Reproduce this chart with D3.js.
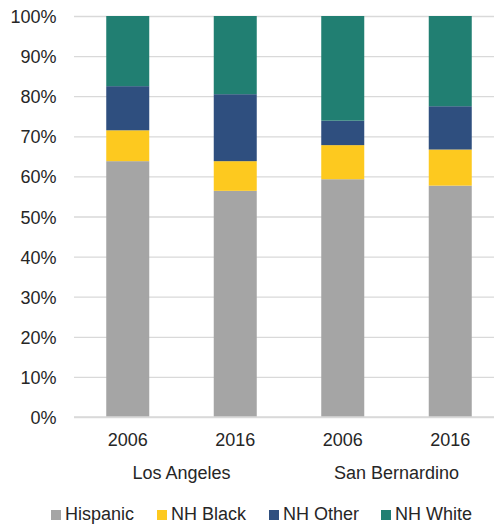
<!DOCTYPE html>
<html>
<head>
  <meta charset="utf-8">
  <script src="https://d3js.org/d3.v7.min.js"></script>
  <style>
    body { margin: 0; background: #fff; }
    svg text { font-family: "Liberation Sans", Arial, sans-serif; fill: #262626; font-size: 18px; }
    .gridlines line { stroke: #d9d9d9; stroke-width: 1.3; }
    .gridlines .domain { stroke: none; }
  </style>
</head>
<body>
  <svg id="chart" width="494" height="527"></svg>
  <script>
    // data
    const years = ["2006", "2016", "2006", "2016"];
    const counties = ["Los Angeles", "San Bernardino"];
    const groups = ["Hispanic", "NH Black", "NH Other", "NH White"];
    const hispanic = [63.8, 56.4, 59.3, 57.7];
    const nhBlack = [7.7, 7.4, 8.5, 9.0];
    const nhOther = [11.0, 16.7, 6.1, 10.8];
    const nhWhite = [17.5, 19.5, 26.1, 22.5];
    const yTicks = [0, 10, 20, 30, 40, 50, 60, 70, 80, 90, 100];
    const colors = ["#a5a5a5", "#fdc91f", "#2f4f7f", "#217f72"];

    const svg = d3.select("svg#chart");
    const margin = { top: 16, left: 74 };
    const plotRight = 504;  // plot runs a little past the right edge
    const plotBottom = 417;

    const rows = years.map((y, i) => ({
      key: i,
      Hispanic: hispanic[i],
      "NH Black": nhBlack[i],
      "NH Other": nhOther[i],
      "NH White": nhWhite[i]
    }));

    const xScale = d3.scaleBand().domain(d3.range(years.length))
      .range([margin.left, plotRight]).paddingInner(0.6).paddingOuter(0.3);
    const yScale = d3.scaleLinear().domain([0, 100]).range([plotBottom, margin.top]);
    const colorScale = d3.scaleOrdinal().domain(groups).range(colors);

    // gridlines
    const grid = d3.axisLeft(yScale).tickValues(yTicks).tickFormat("")
      .tickSize(-(plotRight - margin.left));
    svg.append("g").attr("class", "gridlines")
      .attr("transform", `translate(${margin.left},0)`)
      .call(grid);

    // y labels
    svg.append("g").selectAll("text").data(yTicks).join("text")
      .attr("x", 56.5).attr("y", d => yScale(d) + 7)
      .attr("text-anchor", "end")
      .text(d => d + "%");

    // stacked bars
    const stack = d3.stack().keys(groups)(rows);
    svg.append("g").selectAll("g").data(stack).join("g")
      .attr("fill", d => colorScale(d.key))
      .selectAll("rect").data(d => d).join("rect")
      .attr("x", d => xScale(d.data.key))
      .attr("width", xScale.bandwidth())
      .attr("y", d => yScale(d[1]))
      .attr("height", d => yScale(d[0]) - yScale(d[1]));

    // baseline
    svg.append("line")
      .attr("x1", margin.left).attr("x2", plotRight)
      .attr("y1", plotBottom).attr("y2", plotBottom)
      .attr("stroke", "#d9d9d9").attr("stroke-width", 1.3);

    // year labels
    svg.append("g").selectAll("text").data(years).join("text")
      .attr("x", (d, i) => xScale(i) + xScale.bandwidth() / 2)
      .attr("y", 446).attr("text-anchor", "middle")
      .text(d => d);

    // county labels, centered under each pair of bars
    svg.append("g").selectAll("text").data(counties).join("text")
      .attr("x", (d, i) => (xScale(i * 2) + xScale(i * 2 + 1) + xScale.bandwidth()) / 2)
      .attr("y", 479).attr("text-anchor", "middle")
      .text(d => d);

    // legend
    const legendX = [51, 157, 269, 381];
    const legend = svg.append("g").selectAll("g").data(groups).join("g")
      .attr("transform", (d, i) => `translate(${legendX[i]},520)`);
    legend.append("rect")
      .attr("x", 0).attr("y", -10).attr("width", 10).attr("height", 10)
      .attr("fill", d => colorScale(d));
    legend.append("text")
      .attr("x", 14).attr("y", 0)
      .text(d => d);
  </script>
</body>
</html>
